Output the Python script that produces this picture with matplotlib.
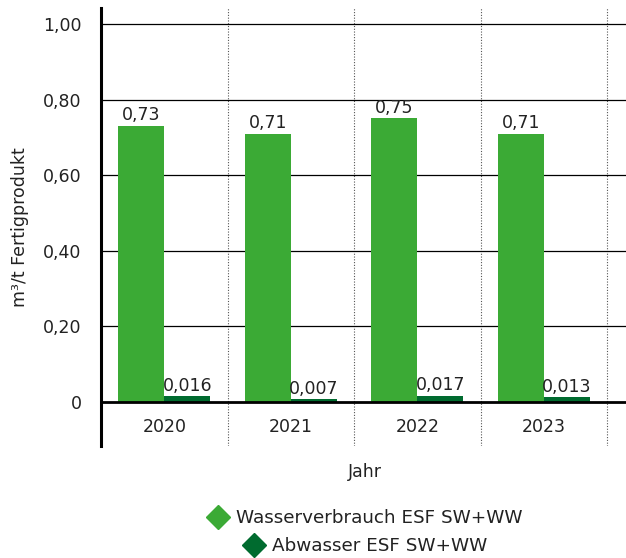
import matplotlib
matplotlib.use("Agg")
import matplotlib.pyplot as plt
from matplotlib.lines import Line2D
import numpy as np

years = ["2020", "2021", "2022", "2023"]
wasser = [0.73, 0.71, 0.75, 0.71]
abwasser = [0.016, 0.007, 0.017, 0.013]
wasser_lbl = ["0,73", "0,71", "0,75", "0,71"]
abwasser_lbl = ["0,016", "0,007", "0,017", "0,013"]
yticks = [0, 0.2, 0.4, 0.6, 0.8, 1.0]
ytick_lbl = ["0", "0,20", "0,40", "0,60", "0,80", "1,00"]

c_light = "#3baa35"
c_dark = "#006b2f"
txt = "#222222"
fs = 12.5

plt.rcParams["font.family"] = ["DejaVu Sans"]

fig = plt.figure(figsize=(6.26, 5.58), dpi=100)
ax = fig.add_axes([101 / 626, 112 / 558, 1 - 101 / 626, (558 - 112 - 8) / 558])

x = np.arange(len(years))
w = 0.364
ax.bar(x - w / 2, wasser, w, color=c_light, zorder=3)
ax.bar(x + w / 2, abwasser, w, color=c_dark, zorder=3)

for i in range(len(years)):
    ax.text(x[i] - w / 2, wasser[i] + 0.004, wasser_lbl[i], ha="center", va="bottom",
            fontsize=fs, color=txt)
    ax.text(x[i] + w / 2, abwasser[i] + 0.004, abwasser_lbl[i], ha="center", va="bottom",
            fontsize=fs, color=txt)
    ax.text(x[i], -0.065, years[i], ha="center", va="center", fontsize=fs, color=txt)

ax.set_xlim(-0.5, 3.65)
ax.set_ylim(-0.116, 1.042)

for yv in yticks[1:]:
    ax.axhline(yv, color="black", lw=0.9, zorder=2)
ax.axhline(0, color="black", lw=2, zorder=4)
for xv in [0.5, 1.5, 2.5, 3.5]:
    ax.axvline(xv, color="#555555", lw=0.8, ls=(0, (1, 1.5)), zorder=1)

ax.set_yticks(yticks)
ax.set_yticklabels(ytick_lbl, fontsize=fs, color=txt)
ax.set_xticks([])
ax.tick_params(axis="y", length=0, pad=14)
for s in ["top", "right", "bottom"]:
    ax.spines[s].set_visible(False)
ax.spines["left"].set_linewidth(2.2)

ax.set_ylabel("m³/t Fertigprodukt", fontsize=fs, color=txt, labelpad=10)
fig.text(365 / 626, 1 - 472 / 558, "Jahr", ha="center", va="center", fontsize=fs, color=txt)

h1 = Line2D([], [], marker="D", ls="none", color=c_light, markersize=12)
h2 = Line2D([], [], marker="D", ls="none", color=c_dark, markersize=12)
leg1 = fig.legend([h1], ["Wasserverbrauch ESF SW+WW"], loc="center",
                  bbox_to_anchor=(365 / 626, 1 - 518 / 558), frameon=False,
                  fontsize=13.2, handletextpad=0.4, handlelength=1.2, borderpad=0)
leg2 = fig.legend([h2], ["Abwasser ESF SW+WW"], loc="center",
                  bbox_to_anchor=(365 / 626, 1 - 546 / 558), frameon=False,
                  fontsize=13.2, handletextpad=0.4, handlelength=1.2, borderpad=0)
for lg in (leg1, leg2):
    for t in lg.get_texts():
        t.set_color(txt)

fig.savefig("out.png", dpi=100)
